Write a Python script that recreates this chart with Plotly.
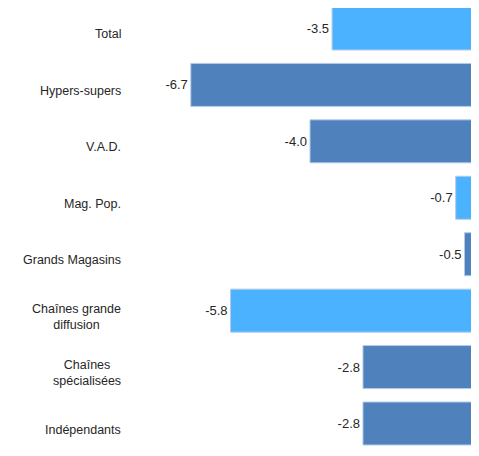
import plotly.graph_objects as go

categories = ["Total", "Hypers-supers", "V.A.D.", "Mag. Pop.", "Grands Magasins",
              "Chaînes grande<br>diffusion", "Chaînes<br>spécialisées", "Indépendants"]
values = [-3.5, -6.7, -4.0, -0.7, -0.5, -5.8, -2.8, -2.8]
bar_colors = ["#4BB2FF", "#4F81BD", "#4F81BD", "#4BB2FF", "#4F81BD", "#4BB2FF", "#4F81BD", "#4F81BD"]
value_labels = [f"{v:.1f}" for v in values]

FONT = "Liberation Sans, Arial, sans-serif"

fig = go.Figure(go.Bar(
    y=list(range(len(categories))), x=values, orientation="h",
    marker=dict(color=bar_colors, line=dict(color="#B3CBE8", width=1)),
    text=value_labels, textposition="outside", cliponaxis=False,
    textfont=dict(family=FONT, size=13, color="#262626"),
    hoverinfo="skip",
))

for i, c in enumerate(categories):
    fig.add_annotation(x=0, xref="paper", xanchor="right", xshift=-3,
                       y=i, yref="y", yshift=-6, text=c, showarrow=False, align="center",
                       font=dict(family=FONT, size=12.5, color="#262626"))

fig.update_layout(
    width=463, height=448,
    margin=dict(l=118, r=0, t=0, b=0),
    plot_bgcolor="white", paper_bgcolor="white",
    bargap=0.238, showlegend=False,
)
fig.update_xaxes(range=[-8.168, -0.353], visible=False)
fig.update_yaxes(range=[7.576, -0.363], showticklabels=False, showgrid=False, zeroline=False,
                 showline=False, ticks="")
fig.write_html("out.html")
